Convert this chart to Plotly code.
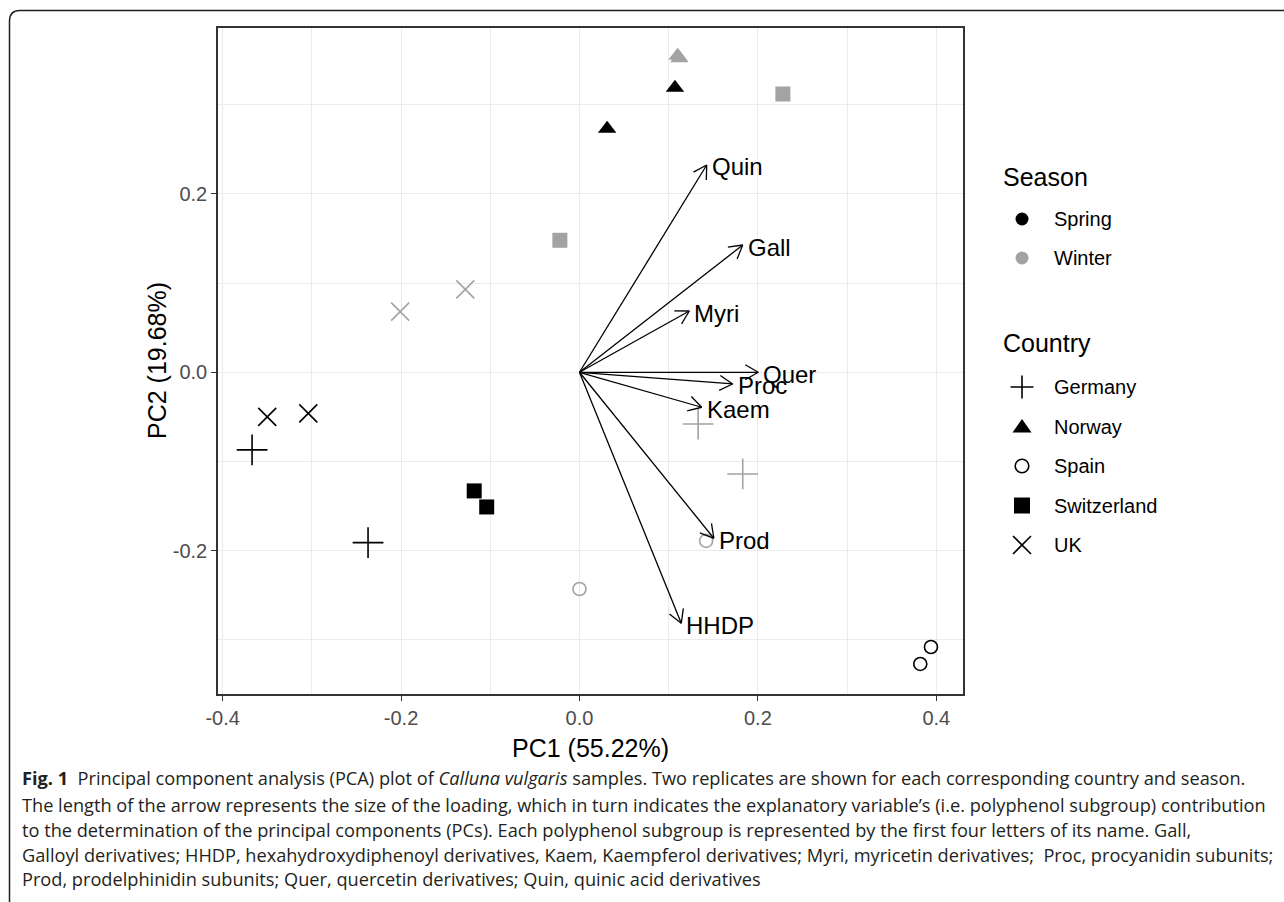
import numpy as np
import plotly.graph_objects as go

W, H = 1284, 902

# ---------------- data ----------------
countries = ["Germany", "Norway", "Spain", "Switzerland", "UK"]
seasons = ["Spring", "Winter"]

sample_country = ["Germany", "Germany", "Germany", "Germany",
                  "Norway", "Norway", "Norway", "Norway",
                  "Spain", "Spain", "Spain", "Spain",
                  "Switzerland", "Switzerland", "Switzerland", "Switzerland",
                  "UK", "UK", "UK", "UK"]
sample_season = ["Spring", "Spring", "Winter", "Winter"] * 5
pc1 = [-0.367, -0.237, 0.133, 0.183,
       0.031, 0.107, 0.110, 0.112,
       0.382, 0.394, 0.000, 0.142,
       -0.118, -0.104, -0.022, 0.228,
       -0.350, -0.304, -0.201, -0.128]
pc2 = [-0.087, -0.191, -0.058, -0.114,
       0.273, 0.319, 0.355, 0.352,
       -0.327, -0.308, -0.243, -0.189,
       -0.133, -0.151, 0.148, 0.312,
       -0.050, -0.046, 0.068, 0.093]

loading_names = ["Quin", "Gall", "Myri", "Quer", "Proc", "Kaem", "Prod", "HHDP"]
loading_pc1 = [0.1426, 0.1830, 0.1231, 0.2004, 0.1717, 0.1370, 0.1506, 0.1141]
loading_pc2 = [0.2324, 0.1427, 0.0687, 0.0000, -0.0131, -0.0392, -0.1861, -0.2814]

x_tick_vals = [-0.4, -0.2, 0.0, 0.2, 0.4]
x_tick_text = ["-0.4", "-0.2", "0.0", "0.2", "0.4"]
y_tick_vals = [-0.2, 0.0, 0.2]
y_tick_text = ["-0.2", "0.0", "0.2"]

x_title = "PC1 (55.22%)"
y_title = "PC2 (19.68%)"

caption_lines = [
    "<b>Fig. 1</b>\u00a0 Principal component analysis (PCA) plot of <i>Calluna vulgaris</i> samples. "
    "Two replicates are shown for each corresponding country and season.",
    "The length of the arrow represents the size of the loading, which in turn indicates the "
    "explanatory variable\u2019s (i.e. polyphenol subgroup) contribution",
    "to the determination of the principal components (PCs). Each polyphenol subgroup is "
    "represented by the first four letters of its name. Gall,",
    "Galloyl derivatives; HHDP, hexahydroxydiphenoyl derivatives, Kaem, Kaempferol derivatives; "
    "Myri, myricetin derivatives;\u00a0 Proc, procyanidin subunits;",
    "Prod, prodelphinidin subunits; Quer, quercetin derivatives; Quin, quinic acid derivatives",
]

# ---------------- styles ----------------
season_color = {"Spring": "#000000", "Winter": "#A3A3A3"}
country_symbol = {"Germany": "cross-thin-open", "Norway": "triangle-up",
                  "Spain": "circle-open", "Switzerland": "square", "UK": "x-thin-open"}
country_size = {"Germany": 22, "Norway": 16, "Spain": 13, "Switzerland": 15, "UK": 18}
FONT = "Liberation Sans, Arial, sans-serif"


def X(px):
    return px / W


def Y(py):
    return 1 - py / H


# panel geometry (pixels)
PL, PR, PT, PB = 218, 963, 28, 694
x_range = [-0.4052, 0.4299]
y_range = [-0.3607, 0.3860]
sx = (PR - PL) / (x_range[1] - x_range[0])
sy = (PB - PT) / (y_range[1] - y_range[0])

fig = go.Figure()

# sample points
for c in countries:
    for s in seasons:
        idx = [i for i in range(len(pc1)) if sample_country[i] == c and sample_season[i] == s]
        sym = country_symbol[c]
        is_open = sym.endswith("open")
        fig.add_trace(go.Scatter(
            x=[pc1[i] for i in idx], y=[pc2[i] for i in idx],
            mode="markers", name=f"{c} {s}", showlegend=False,
            marker=dict(symbol=sym, size=country_size[c], color=season_color[s],
                        line=dict(color=season_color[s], width=1.6 if is_open else 0))))

# loading arrows (shafts + open heads computed from the loadings)
L_head, ang = 15.0, np.deg2rad(30)
ax_, ay_ = [], []
for lx, ly in zip(loading_pc1, loading_pc2):
    ax_ += [0, lx, None]
    ay_ += [0, ly, None]
    dx, dy = lx * sx, ly * sy
    n = np.hypot(dx, dy)
    ux, uy = dx / n, dy / n
    for sgn in (1, -1):
        ca, sa = np.cos(ang), sgn * np.sin(ang)
        rx, ry = ux * ca - uy * sa, ux * sa + uy * ca
        ax_ += [lx - L_head * rx / sx, lx, None]
        ay_ += [ly - L_head * ry / sy, ly, None]
fig.add_trace(go.Scatter(x=ax_, y=ay_, mode="lines", showlegend=False,
                         line=dict(color="black", width=1.3), hoverinfo="skip"))

annotations = []
for name, lx, ly in zip(loading_names, loading_pc1, loading_pc2):
    annotations.append(dict(x=lx, y=ly, xref="x", yref="y", text=name, showarrow=False,
                            xanchor="left", yanchor="middle", xshift=3, yshift=-2,
                            font=dict(family=FONT, size=24, color="black")))

# axis titles
annotations.append(dict(x=X((PL + PR) / 2), y=Y(748), xref="paper", yref="paper", text=x_title,
                        showarrow=False, xanchor="center", yanchor="middle",
                        font=dict(family=FONT, size=25, color="black")))
annotations.append(dict(x=X(157), y=Y((PT + PB) / 2), xref="paper", yref="paper", text=y_title,
                        showarrow=False, xanchor="center", yanchor="middle", textangle=-90,
                        font=dict(family=FONT, size=25, color="black")))

# manual legend (symbols drawn as shapes at pixel positions)
shapes = []
LX_SYM, LX_TXT, LX_TITLE = 1022, 1052, 1001
season_title_y, season_item_y = 177, [219, 258]
country_title_y, country_item_y = 343, [387, 426.5, 466, 505.5, 545]
for txt, yy in (("Season", season_title_y), ("Country", country_title_y)):
    annotations.append(dict(x=X(LX_TITLE), y=Y(yy), xref="paper", yref="paper", text=txt,
                            showarrow=False, xanchor="left", yanchor="middle",
                            font=dict(family=FONT, size=25, color="black")))


def circle(cx, cy, r, fill, line_w=0):
    return dict(type="circle", xref="paper", yref="paper",
                x0=X(cx - r), x1=X(cx + r), y0=Y(cy + r), y1=Y(cy - r),
                fillcolor=fill if line_w == 0 else "rgba(0,0,0,0)",
                line=dict(color="black" if line_w else fill, width=line_w if line_w else 0))


def path(d, fill=None, w=1.6):
    return dict(type="path", xref="paper", yref="paper", path=d,
                fillcolor=fill if fill else "rgba(0,0,0,0)",
                line=dict(color="black", width=0 if fill else w))


for s, yy in zip(seasons, season_item_y):
    shapes.append(circle(LX_SYM, yy, 6.5, season_color[s]))
    annotations.append(dict(x=X(LX_TXT), y=Y(yy), xref="paper", yref="paper", text=s,
                            showarrow=False, xanchor="left", yanchor="middle",
                            font=dict(family=FONT, size=20, color="black")))

gy, ny, spy, swy, uky = country_item_y
h = 11.5
shapes.append(path(f"M {X(LX_SYM - h)},{Y(gy)} L {X(LX_SYM + h)},{Y(gy)} "
                   f"M {X(LX_SYM)},{Y(gy - h)} L {X(LX_SYM)},{Y(gy + h)}"))
shapes.append(path(f"M {X(LX_SYM - 9.5)},{Y(ny + 6)} L {X(LX_SYM + 9.5)},{Y(ny + 6)} "
                   f"L {X(LX_SYM)},{Y(ny - 7.5)} Z", fill="black"))
shapes.append(circle(LX_SYM, spy, 6.8, "black", line_w=1.6))
shapes.append(path(f"M {X(LX_SYM - 8)},{Y(swy - 8)} L {X(LX_SYM + 8)},{Y(swy - 8)} "
                   f"L {X(LX_SYM + 8)},{Y(swy + 8)} L {X(LX_SYM - 8)},{Y(swy + 8)} Z", fill="black"))
k = 9
shapes.append(path(f"M {X(LX_SYM - k)},{Y(uky - k)} L {X(LX_SYM + k)},{Y(uky + k)} "
                   f"M {X(LX_SYM - k)},{Y(uky + k)} L {X(LX_SYM + k)},{Y(uky - k)}"))
for c, yy in zip(countries, country_item_y):
    annotations.append(dict(x=X(LX_TXT), y=Y(yy), xref="paper", yref="paper", text=c,
                            showarrow=False, xanchor="left", yanchor="middle",
                            font=dict(family=FONT, size=20, color="black")))

# caption
caption_y = [778, 805, 830, 855, 879]
for t, yy in zip(caption_lines, caption_y):
    annotations.append(dict(x=X(20), y=Y(yy), xref="paper", yref="paper", text=t, showarrow=False,
                            xanchor="left", yanchor="middle",
                            font=dict(family="Open Sans, sans-serif", size=18.2, color="#231F20")))

# page frame with rounded top-left corner
shapes.append(dict(type="path", xref="paper", yref="paper",
                   path=(f"M 1,{Y(10.5)} L {X(20)},{Y(10.5)} "
                         f"Q {X(9.5)},{Y(10.5)} {X(9.5)},{Y(21)} L {X(9.5)},0"),
                   line=dict(color="#231F20", width=1.5)))

axis_common = dict(showline=True, mirror=True, linecolor="#333333", linewidth=1.5,
                   showgrid=True, gridcolor="#EBEBEB", gridwidth=1.2, zeroline=False,
                   ticks="outside", ticklen=5, tickwidth=1.3, tickcolor="#333333",
                   tickfont=dict(family=FONT, size=20, color="#4D4D4D"))

fig.update_layout(
    width=W, height=H, margin=dict(l=0, r=0, t=0, b=0, autoexpand=False),
    paper_bgcolor="white", plot_bgcolor="white", showlegend=False,
    xaxis=dict(domain=[PL / W, PR / W], range=x_range,
               tickmode="array", tickvals=x_tick_vals, ticktext=x_tick_text,
               minor=dict(tick0=-0.3, dtick=0.2, showgrid=True,
                          gridcolor="#EBEBEB", gridwidth=1, ticks=""),
               **axis_common),
    yaxis=dict(domain=[1 - PB / H, 1 - PT / H], range=y_range,
               tickmode="array", tickvals=y_tick_vals, ticktext=y_tick_text,
               minor=dict(tick0=-0.3, dtick=0.2, showgrid=True,
                          gridcolor="#EBEBEB", gridwidth=1, ticks=""),
               **axis_common),
    annotations=annotations,
    shapes=shapes,
)

fig.write_html("out.html")
